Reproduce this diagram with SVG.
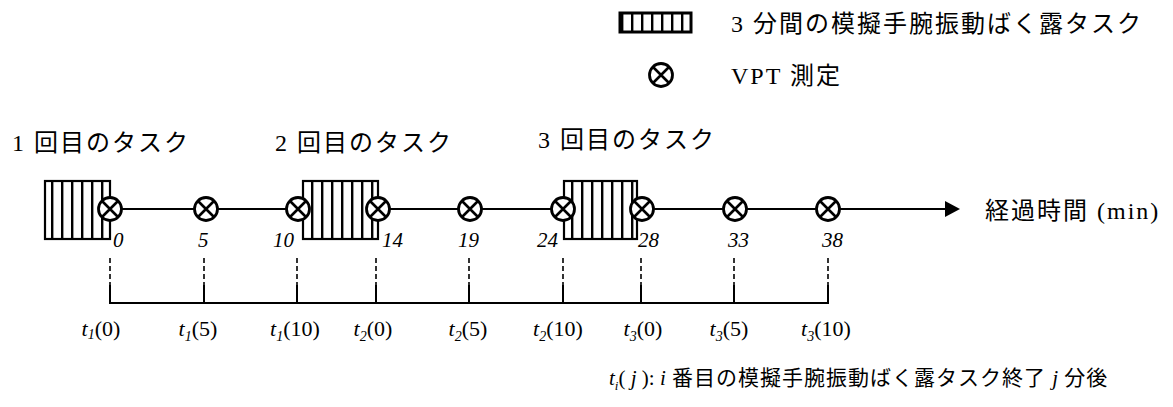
<svg xmlns="http://www.w3.org/2000/svg" width="1173" height="407" viewBox="0 0 1173 407">
<style>
  .t { font-family: "Liberation Serif", "Noto Sans CJK JP", serif; fill: #000; }
  .jp { font-size: 24px; letter-spacing: 2px; }
  .num { font-size: 21px; font-style: italic; }
  .lab { font-size: 22px; }
  .it { font-style: italic; }
  .foot { font-size: 21px; }
  .box { fill: url(#stripes); stroke: #000; stroke-width: 2.2; }
  .vpt circle { fill: #fff; stroke: #000; stroke-width: 2.8; }
  .vpt path { stroke: #000; stroke-width: 2.6; fill: none; }
  .axis { stroke: #000; stroke-width: 2; fill: none; }
  .dash { stroke: #000; stroke-width: 1.6; stroke-dasharray: 5 3; fill: none; }
</style>
<defs>
  <pattern id="stripes" patternUnits="userSpaceOnUse" x="0" y="0" width="10" height="10">
    <rect width="10" height="10" fill="#fff"/>
    <rect x="1" y="0" width="2.4" height="10" fill="#000"/>
  </pattern>
  <g id="vptSym" class="vpt">
    <circle cx="0" cy="0" r="11.5"/>
    <path d="M-8,-8 L8,8 M-8,8 L8,-8"/>
  </g>
  <marker id="arrow" markerUnits="userSpaceOnUse" markerWidth="16" markerHeight="18" refX="0" refY="8" orient="auto">
    <path d="M0,0 L15,8 L0,16 z" fill="#000"/>
  </marker>
</defs>
<rect width="1173" height="407" fill="#fff"/>

<!-- legend -->
<g id="legend">
  <rect class="box" x="620" y="13" width="71" height="19" style="stroke-width:3"/>
  <text class="t jp" x="731" y="32">3 分間の模擬手腕振動ばく露タスク</text>
  <use href="#vptSym" x="661" y="75"/>
  <text class="t jp" x="731" y="84">VPT 測定</text>
</g>

<!-- connectors -->
<g id="connectors">
  <line class="axis" x1="110" y1="209" x2="945" y2="209" marker-end="url(#arrow)"/>
  <g id="dashes">
    <line class="dash" x1="110" y1="258" x2="110" y2="286"/>
    <line class="dash" x1="204" y1="258" x2="204" y2="286"/>
    <line class="dash" x1="297" y1="258" x2="297" y2="286"/>
    <line class="dash" x1="376" y1="258" x2="376" y2="286"/>
    <line class="dash" x1="469" y1="258" x2="469" y2="286"/>
    <line class="dash" x1="563" y1="258" x2="563" y2="286"/>
    <line class="dash" x1="641" y1="258" x2="641" y2="286"/>
    <line class="dash" x1="734" y1="258" x2="734" y2="286"/>
    <line class="dash" x1="828" y1="258" x2="828" y2="286"/>
  </g>
  <path class="axis" d="M110,285 V303 H828 V285 M204,285 V303 M297,285 V303 M376,285 V303 M469,285 V303 M563,285 V303 M641,285 V303 M734,285 V303"/>
</g>

<!-- task labels -->
<text class="t jp" x="12" y="151">1 回目のタスク</text>
<text class="t jp" x="275" y="151">2 回目のタスク</text>
<text class="t jp" x="538" y="148">3 回目のタスク</text>

<!-- task boxes -->
<g id="task1"><rect class="box" x="45" y="181" width="65" height="58"/></g>
<g id="task2"><rect class="box" x="303" y="181" width="75" height="58"/></g>
<g id="task3"><rect class="box" x="564" y="181" width="73" height="58"/></g>

<!-- measurement points -->
<g id="m0"><use href="#vptSym" x="110" y="209"/><text class="t num" x="113" y="247">0</text></g>
<g id="m5"><use href="#vptSym" x="206" y="209"/><text class="t num" x="198" y="247">5</text></g>
<g id="m10"><use href="#vptSym" x="298" y="209"/><text class="t num" x="273" y="247">10</text></g>
<g id="m14"><use href="#vptSym" x="378" y="209"/><text class="t num" x="382" y="247">14</text></g>
<g id="m19"><use href="#vptSym" x="470" y="209"/><text class="t num" x="458" y="247">19</text></g>
<g id="m24"><use href="#vptSym" x="563" y="209"/><text class="t num" x="537" y="247">24</text></g>
<g id="m28"><use href="#vptSym" x="642" y="209"/><text class="t num" x="638" y="247">28</text></g>
<g id="m33"><use href="#vptSym" x="735" y="209"/><text class="t num" x="728" y="247">33</text></g>
<g id="m38"><use href="#vptSym" x="828" y="209"/><text class="t num" x="822" y="247">38</text></g>

<text class="t jp" x="985" y="219">経過時間 (min)</text>

<!-- bottom labels -->
<g id="labels" class="t lab" text-anchor="middle">
  <text x="101" y="336"><tspan class="it">t</tspan><tspan class="it" font-size="14" dy="3">1</tspan><tspan dy="-3">(0)</tspan></text>
  <text x="198" y="336"><tspan class="it">t</tspan><tspan class="it" font-size="14" dy="5">1</tspan><tspan dy="-5">(5)</tspan></text>
  <text x="295" y="336"><tspan class="it">t</tspan><tspan class="it" font-size="14" dy="5">1</tspan><tspan dy="-5">(10)</tspan></text>
  <text x="373" y="336"><tspan class="it">t</tspan><tspan class="it" font-size="14" dy="5">2</tspan><tspan dy="-5">(0)</tspan></text>
  <text x="468" y="336"><tspan class="it">t</tspan><tspan class="it" font-size="14" dy="5">2</tspan><tspan dy="-5">(5)</tspan></text>
  <text x="558" y="336"><tspan class="it">t</tspan><tspan class="it" font-size="14" dy="5">2</tspan><tspan dy="-5">(10)</tspan></text>
  <text x="643" y="336"><tspan class="it">t</tspan><tspan class="it" font-size="14" dy="5">3</tspan><tspan dy="-5">(0)</tspan></text>
  <text x="729" y="336"><tspan class="it">t</tspan><tspan class="it" font-size="14" dy="5">3</tspan><tspan dy="-5">(5)</tspan></text>
  <text x="826" y="336"><tspan class="it">t</tspan><tspan class="it" font-size="14" dy="5">3</tspan><tspan dy="-5">(10)</tspan></text>
</g>

<!-- footnote -->
<text class="t foot" x="609" y="385"><tspan class="it">t</tspan><tspan class="it" font-size="13" dy="5">i</tspan><tspan dy="-5">(</tspan><tspan class="it"> j </tspan><tspan>): </tspan><tspan class="it">i</tspan><tspan letter-spacing="1"> 番目の模擬手腕振動ばく露タスク終了 </tspan><tspan class="it">j</tspan><tspan letter-spacing="1"> 分後</tspan></text>
</svg>
